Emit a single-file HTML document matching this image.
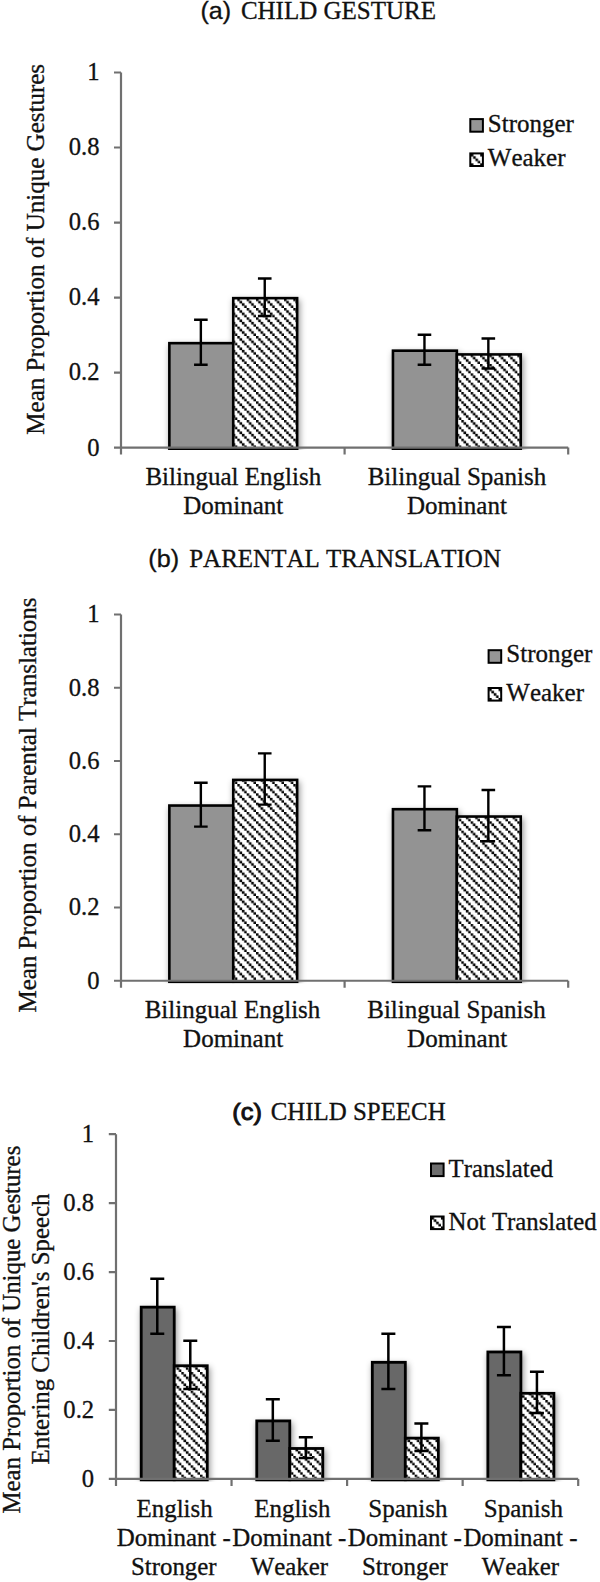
<!DOCTYPE html>
<html lang="en"><head><meta charset="utf-8"><title>Figure</title>
<style>html,body{margin:0;padding:0;background:#fff}svg{display:block}text{font-kerning:none;stroke:#111;stroke-width:0.32px}.se{font-family:"Liberation Serif", "Times New Roman", Times, serif;fill:#111}.sa{font-family:"Liberation Sans", Arial, Helvetica, sans-serif;fill:#111}</style></head><body>
<svg width="600" height="1582" viewBox="0 0 600 1582">
<defs>
<pattern id="hatch" patternUnits="userSpaceOnUse" x="-5.33" y="0.0" width="9.3333" height="9.3333">
<rect width="9.3333" height="9.3333" fill="#fff"/>
<rect x="-2.4733" y="-2.4733" width="2.6133" height="2.6133" fill="#000"/>
<rect x="-0.1400" y="-0.1400" width="2.6133" height="2.6133" fill="#000"/>
<rect x="2.1933" y="2.1933" width="2.6133" height="2.6133" fill="#000"/>
<rect x="4.5267" y="4.5267" width="2.6133" height="2.6133" fill="#000"/>
<rect x="6.8600" y="6.8600" width="2.6133" height="2.6133" fill="#000"/>
<rect x="9.1933" y="9.1933" width="2.6133" height="2.6133" fill="#000"/>
</pattern>
<filter id="sh" x="-10%" y="-10%" width="130%" height="120%"><feDropShadow dx="1.4" dy="3" stdDeviation="3.1" flood-color="#000" flood-opacity="0.42"/></filter>
</defs>
<rect width="600" height="1582" fill="#fff"/>
<text class="sa" x="200.5" y="18.9" font-size="24.2" textLength="30.6" lengthAdjust="spacingAndGlyphs">(a)</text>
<text class="se" x="240.9" y="19" font-size="25">CHILD GESTURE</text>
<text class="se" x="99.5" y="455.5" font-size="24.6" text-anchor="end">0</text>
<text class="se" x="99.5" y="380.48" font-size="24.6" text-anchor="end">0.2</text>
<text class="se" x="99.5" y="305.46" font-size="24.6" text-anchor="end">0.4</text>
<text class="se" x="99.5" y="230.44" font-size="24.6" text-anchor="end">0.6</text>
<text class="se" x="99.5" y="155.42" font-size="24.6" text-anchor="end">0.8</text>
<text class="se" x="99.5" y="80.4" font-size="24.6" text-anchor="end">1</text>
<clipPath id="cla"><rect x="0" y="12.5" width="600" height="437.60"/></clipPath>
<g clip-path="url(#cla)"><g filter="url(#sh)">
<rect x="169.36" y="343.17" width="63.89" height="105.63" fill="#939393" stroke="#000" stroke-width="2.6" stroke-linejoin="miter"/>
<rect x="233.25" y="298.16" width="63.89" height="150.64" fill="url(#hatch)" stroke="#000" stroke-width="2.6" stroke-linejoin="miter"/>
<rect x="392.96" y="350.67" width="63.89" height="98.13" fill="#939393" stroke="#000" stroke-width="2.6" stroke-linejoin="miter"/>
<rect x="456.85" y="354.43" width="63.89" height="94.38" fill="url(#hatch)" stroke="#000" stroke-width="2.6" stroke-linejoin="miter"/>
</g></g>
<path d="M121 72.5V454.6M114 447.6H568.2M114 372.58H121M114 297.56H121M114 222.54H121M114 147.52H121M114 72.50H121M344.60 447.6V454.6M568.20 447.6V454.6" fill="none" stroke="#707070" stroke-width="2.2"/>
<path d="M194.06 319.77H207.66M194.06 364.78H207.66M200.86 319.77V364.78M257.94 278.50H271.54M257.94 316.01H271.54M264.74 278.50V316.01M417.66 334.77H431.26M417.66 364.78H431.26M424.46 334.77V364.78M481.54 338.52H495.14M481.54 368.53H495.14M488.34 338.52V368.53" fill="none" stroke="#000" stroke-width="2.4"/>
<text class="se" font-size="25" text-anchor="middle" transform="translate(43.8 249.3) rotate(-90)">Mean Proportion of Unique Gestures</text>
<text class="se" x="233.3" y="485" font-size="25" text-anchor="middle">Bilingual English</text>
<text class="se" x="233.3" y="514" font-size="25" text-anchor="middle">Dominant</text>
<text class="se" x="456.9" y="485" font-size="25" text-anchor="middle">Bilingual Spanish</text>
<text class="se" x="456.9" y="514" font-size="25" text-anchor="middle">Dominant</text>
<pattern id="hl153" href="#hatch" x="470.90" y="154.00"/>
<rect x="470.3" y="119.1" width="12.6" height="12.6" fill="#969696" stroke="#000" stroke-width="2.0"/>
<rect x="470.3" y="153.4" width="12.6" height="12.6" fill="url(#hl153)" stroke="#000" stroke-width="2.0"/>
<text class="se" x="487.8" y="132.2" font-size="25">Stronger</text>
<text class="se" x="487.8" y="166.2" font-size="25">Weaker</text>
<text class="sa" x="148.3" y="567" font-size="24.2" textLength="30.8" lengthAdjust="spacingAndGlyphs">(b)</text>
<text class="se" x="189.2" y="567.3" font-size="25">PARENTAL TRANSLATION</text>
<text class="se" x="99.5" y="988.65" font-size="24.6" text-anchor="end">0</text>
<text class="se" x="99.5" y="915.4" font-size="24.6" text-anchor="end">0.2</text>
<text class="se" x="99.5" y="842.15" font-size="24.6" text-anchor="end">0.4</text>
<text class="se" x="99.5" y="768.9" font-size="24.6" text-anchor="end">0.6</text>
<text class="se" x="99.5" y="695.65" font-size="24.6" text-anchor="end">0.8</text>
<text class="se" x="99.5" y="622.4" font-size="24.6" text-anchor="end">1</text>
<clipPath id="clb"><rect x="0" y="554.5" width="600" height="428.75"/></clipPath>
<g clip-path="url(#clb)"><g filter="url(#sh)">
<rect x="169.36" y="805.55" width="63.89" height="176.40" fill="#939393" stroke="#000" stroke-width="2.6" stroke-linejoin="miter"/>
<rect x="233.25" y="779.91" width="63.89" height="202.04" fill="url(#hatch)" stroke="#000" stroke-width="2.6" stroke-linejoin="miter"/>
<rect x="392.96" y="809.21" width="63.89" height="172.74" fill="#939393" stroke="#000" stroke-width="2.6" stroke-linejoin="miter"/>
<rect x="456.85" y="816.54" width="63.89" height="165.41" fill="url(#hatch)" stroke="#000" stroke-width="2.6" stroke-linejoin="miter"/>
</g></g>
<path d="M121 614.5V987.75M114 980.75H568.2M114 907.50H121M114 834.25H121M114 761.00H121M114 687.75H121M114 614.50H121M344.60 980.75V987.75M568.20 980.75V987.75" fill="none" stroke="#707070" stroke-width="2.2"/>
<path d="M194.06 782.68H207.66M194.06 826.62H207.66M200.86 782.68V826.62M257.94 753.38H271.54M257.94 804.65H271.54M264.74 753.38V804.65M417.66 786.34H431.26M417.66 830.29H431.26M424.46 786.34V830.29M481.54 790.00H495.14M481.54 841.28H495.14M488.34 790.00V841.28" fill="none" stroke="#000" stroke-width="2.4"/>
<text class="se" font-size="25" text-anchor="middle" transform="translate(36.0 805) rotate(-90)">Mean Proportion of Parental Translations</text>
<text class="se" x="232.5" y="1018" font-size="25" text-anchor="middle">Bilingual English</text>
<text class="se" x="233.1" y="1047" font-size="25" text-anchor="middle">Dominant</text>
<text class="se" x="456.5" y="1018" font-size="25" text-anchor="middle">Bilingual Spanish</text>
<text class="se" x="457.1" y="1047" font-size="25" text-anchor="middle">Dominant</text>
<pattern id="hl688" href="#hatch" x="489.20" y="688.60"/>
<rect x="488.6" y="650.2" width="12.6" height="12.6" fill="#969696" stroke="#000" stroke-width="2.0"/>
<rect x="488.6" y="688.0" width="12.6" height="12.6" fill="url(#hl688)" stroke="#000" stroke-width="2.0"/>
<text class="se" x="506.3" y="662.3" font-size="25">Stronger</text>
<text class="se" x="506.3" y="701" font-size="25">Weaker</text>
<text class="sa" x="232.3" y="1120" font-size="24" textLength="29.6" lengthAdjust="spacingAndGlyphs" style="stroke-width:0.95px">(c)</text>
<text class="se" x="270.7" y="1119.7" font-size="24.9">CHILD SPEECH</text>
<text class="se" x="94.1" y="1486.8" font-size="24.6" text-anchor="end">0</text>
<text class="se" x="94.1" y="1417.86" font-size="24.6" text-anchor="end">0.2</text>
<text class="se" x="94.1" y="1348.92" font-size="24.6" text-anchor="end">0.4</text>
<text class="se" x="94.1" y="1279.98" font-size="24.6" text-anchor="end">0.6</text>
<text class="se" x="94.1" y="1211.04" font-size="24.6" text-anchor="end">0.8</text>
<text class="se" x="94.1" y="1142.1" font-size="24.6" text-anchor="end">1</text>
<clipPath id="clc"><rect x="0" y="1074.2" width="600" height="407.30"/></clipPath>
<g clip-path="url(#clc)"><g filter="url(#sh)">
<rect x="141.21" y="1307.15" width="33.01" height="172.95" fill="#686868" stroke="#000" stroke-width="2.8" stroke-linejoin="miter"/>
<rect x="174.23" y="1365.75" width="33.01" height="114.35" fill="url(#hatch)" stroke="#000" stroke-width="2.8" stroke-linejoin="miter"/>
<rect x="256.76" y="1420.90" width="33.01" height="59.20" fill="#686868" stroke="#000" stroke-width="2.8" stroke-linejoin="miter"/>
<rect x="289.78" y="1448.48" width="33.01" height="31.62" fill="url(#hatch)" stroke="#000" stroke-width="2.8" stroke-linejoin="miter"/>
<rect x="372.31" y="1362.30" width="33.01" height="117.80" fill="#686868" stroke="#000" stroke-width="2.8" stroke-linejoin="miter"/>
<rect x="405.32" y="1438.14" width="33.01" height="41.96" fill="url(#hatch)" stroke="#000" stroke-width="2.8" stroke-linejoin="miter"/>
<rect x="487.86" y="1351.96" width="33.01" height="128.14" fill="#686868" stroke="#000" stroke-width="2.8" stroke-linejoin="miter"/>
<rect x="520.88" y="1393.33" width="33.01" height="86.77" fill="url(#hatch)" stroke="#000" stroke-width="2.8" stroke-linejoin="miter"/>
</g></g>
<path d="M116 1134.2V1486.1000000000001M108.8 1478.9H578.2M108.8 1409.96H116M108.8 1341.02H116M108.8 1272.08H116M108.8 1203.14H116M108.8 1134.20H116M231.55 1478.9V1486.1000000000001M347.10 1478.9V1486.1000000000001M462.65 1478.9V1486.1000000000001M578.20 1478.9V1486.1000000000001" fill="none" stroke="#707070" stroke-width="2.2"/>
<path d="M150.27 1278.67H164.27M150.27 1333.83H164.27M157.27 1278.67V1333.83M183.28 1340.72H197.28M183.28 1388.98H197.28M190.28 1340.72V1388.98M265.82 1399.32H279.82M265.82 1440.68H279.82M272.82 1399.32V1440.68M298.83 1437.24H312.83M298.83 1457.92H312.83M305.83 1437.24V1457.92M381.37 1333.83H395.37M381.37 1388.98H395.37M388.37 1333.83V1388.98M414.38 1423.45H428.38M414.38 1451.02H428.38M421.38 1423.45V1451.02M496.92 1326.93H510.92M496.92 1375.19H510.92M503.92 1326.93V1375.19M529.93 1371.74H543.93M529.93 1413.11H543.93M536.93 1371.74V1413.11" fill="none" stroke="#000" stroke-width="2.5"/>
<text class="se" font-size="24.8" text-anchor="middle" transform="translate(19.5 1329.6) rotate(-90)">Mean Proportion of Unique Gestures</text>
<text class="se" font-size="24.85" text-anchor="middle" transform="translate(48.6 1329) rotate(-90)">Entering Children's Speech</text>
<text class="se" x="174.58" y="1516.5" font-size="24.9" text-anchor="middle">English</text>
<text class="se" x="173.78" y="1545.5" font-size="24.9" text-anchor="middle">Dominant -</text>
<text class="se" x="173.78" y="1574.5" font-size="24.9" text-anchor="middle">Stronger</text>
<text class="se" x="292.33" y="1516.5" font-size="24.9" text-anchor="middle">English</text>
<text class="se" x="289.33" y="1545.5" font-size="24.9" text-anchor="middle">Dominant -</text>
<text class="se" x="289.33" y="1574.5" font-size="24.9" text-anchor="middle">Weaker</text>
<text class="se" x="407.88" y="1516.5" font-size="25" text-anchor="middle">Spanish</text>
<text class="se" x="404.88" y="1545.5" font-size="24.9" text-anchor="middle">Dominant -</text>
<text class="se" x="404.88" y="1574.5" font-size="24.9" text-anchor="middle">Stronger</text>
<text class="se" x="523.43" y="1516.5" font-size="25" text-anchor="middle">Spanish</text>
<text class="se" x="520.43" y="1545.5" font-size="24.9" text-anchor="middle">Dominant -</text>
<text class="se" x="520.43" y="1574.5" font-size="24.9" text-anchor="middle">Weaker</text>
<pattern id="hl1216" href="#hatch" x="431.60" y="1217.10"/>
<rect x="431" y="1163.5" width="12.6" height="12.6" fill="#6e6e6e" stroke="#000" stroke-width="2.0"/>
<rect x="431" y="1216.5" width="12.6" height="12.6" fill="url(#hl1216)" stroke="#000" stroke-width="2.0"/>
<text class="se" x="448.5" y="1176.7" font-size="24.8">Translated</text>
<text class="se" x="448.5" y="1230" font-size="24.8">Not Translated</text>
</svg></body></html>
